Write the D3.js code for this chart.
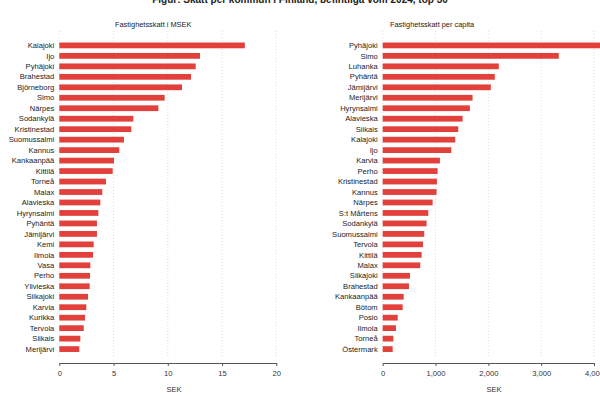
<!DOCTYPE html>
<html>
<head>
<meta charset="utf-8">
<script src="https://cdn.jsdelivr.net/npm/d3@7"></script>
<style>
  body { margin: 0; background: #fff; }
  svg { font-family: "Liberation Sans", Arial, sans-serif; display: block; }
</style>
</head>
<body>
<script>
// vänster panel: fastighetsskatt i MSEK
var leftNames = ["Kalajoki", "Ijo", "Pyhäjoki", "Brahestad", "Björneborg", "Simo", "Närpes", "Sodankylä",
  "Kristinestad", "Suomussalmi", "Kannus", "Kankaanpää", "Kittilä", "Torneå", "Malax", "Alavieska",
  "Hyrynsalmi", "Pyhäntä", "Jämijärvi", "Kemi", "Ilmola", "Vasa", "Perho", "Ylivieska", "Siikajoki",
  "Karvia", "Kurikka", "Tervola", "Siikais", "Merijärvi"];
var leftValues = [17.1, 12.97, 12.57, 12.14, 11.31, 9.71, 9.13, 6.82, 6.64, 5.96, 5.53, 5.04, 4.92, 4.30,
  3.96, 3.78, 3.60, 3.47, 3.47, 3.17, 3.11, 2.86, 2.83, 2.80, 2.65, 2.49, 2.37, 2.25, 1.94, 1.84];
var leftTicks = [0, 5, 10, 15, 20];

// höger panel: fastighetsskatt per capita
var rightNames = ["Pyhäjoki", "Simo", "Luhanka", "Pyhäntä", "Jämijärvi", "Merijärvi", "Hyrynsalmi",
  "Alavieska", "Siikais", "Kalajoki", "Ijo", "Karvia", "Perho", "Kristinestad", "Kannus", "Närpes",
  "S:t Mårtens", "Sodankylä", "Suomussalmi", "Tervola", "Kittilä", "Malax", "Siikajoki", "Brahestad",
  "Kankaanpää", "Bötom", "Posio", "Ilmola", "Torneå", "Östermark"];
var rightValues = [4250, 3333, 2198, 2122, 2047, 1701, 1650, 1512, 1430, 1373, 1298, 1083, 1039, 1026,
  1020, 945, 863, 831, 787, 762, 737, 711, 516, 497, 397, 378, 284, 251, 201, 189];
var rightTicks = [0, 1000, 2000, 3000, 4000];

var width = 600, height = 399;
var barColor = "#e2403a";

var svg = d3.select("body").append("svg")
    .attr("width", width)
    .attr("height", height);

// huvudrubrik (delvis utanför bilden, som i originalet)
svg.append("text")
    .attr("x", 300).attr("y", 3)
    .attr("text-anchor", "middle")
    .attr("font-size", "10px").attr("font-weight", "bold").attr("fill", "#222")
    .text("Figur: Skatt per kommun i Finland, befintliga vom 2024, top 30");

function panel(opts) {
    var g = svg.append("g");
    var x = d3.scaleLinear().domain(opts.domain).range([opts.x0, opts.x1]);
    var y = d3.scaleBand().domain(opts.names).range([42, 352.5]).paddingInner(0.45).paddingOuter(0.05);

    // prickade stödlinjer
    g.append("g").selectAll("line").data(opts.ticks).join("line")
        .attr("x1", d => x(d)).attr("x2", d => x(d))
        .attr("y1", 31).attr("y2", 358)
        .attr("stroke", "#d4d4d4").attr("stroke-width", 0.8)
        .attr("stroke-dasharray", "1,2");

    g.append("g").selectAll("rect").data(opts.names).join("rect")
        .attr("x", x(0))
        .attr("y", d => y(d))
        .attr("width", (d, i) => x(opts.values[i]) - x(0))
        .attr("height", y.bandwidth())
        .attr("fill", barColor);

    g.append("g").selectAll("text").data(opts.names).join("text")
        .attr("x", x(0) - 5)
        .attr("y", d => y(d) + y.bandwidth() / 2)
        .attr("dy", "0.35em")
        .attr("text-anchor", "end")
        .attr("font-size", "7.6px").attr("fill", "#222")
        .text(d => d);

    var axis = d3.axisBottom(x).tickValues(opts.ticks).tickFormat(opts.format)
        .tickSize(3).tickSizeOuter(0);
    var ax = g.append("g").attr("transform", "translate(0,363)").call(axis);
    ax.select(".domain").attr("stroke", "#555").attr("stroke-width", 1);
    ax.selectAll(".tick line").attr("stroke", "#555");
    ax.selectAll(".tick text").attr("font-size", "7.6px").attr("fill", "#333")
        .attr("font-family", "Liberation Sans, Arial, sans-serif").attr("y", 8);

    g.append("text")
        .attr("x", opts.xlabelX).attr("y", 392)
        .attr("text-anchor", "middle")
        .attr("font-size", "7.6px").attr("fill", "#333")
        .text("SEK");

    g.append("text")
        .attr("x", opts.titleX).attr("y", 27)
        .attr("font-size", "7.4px").attr("fill", "#222")
        .text(opts.title);
}

panel({
    names: leftNames, values: leftValues, ticks: leftTicks,
    domain: [0, 20], x0: 59.3, x1: 276.3,
    format: d3.format("d"),
    xlabelX: 174, titleX: 115,
    title: "Fastighetsskatt i MSEK"
});

panel({
    names: rightNames, values: rightValues, ticks: rightTicks,
    domain: [0, 4000], x0: 382.7, x1: 594,
    format: d3.format(",d"),
    xlabelX: 494, titleX: 390,
    title: "Fastighetsskatt per capita"
});
</script>
</body>
</html>
